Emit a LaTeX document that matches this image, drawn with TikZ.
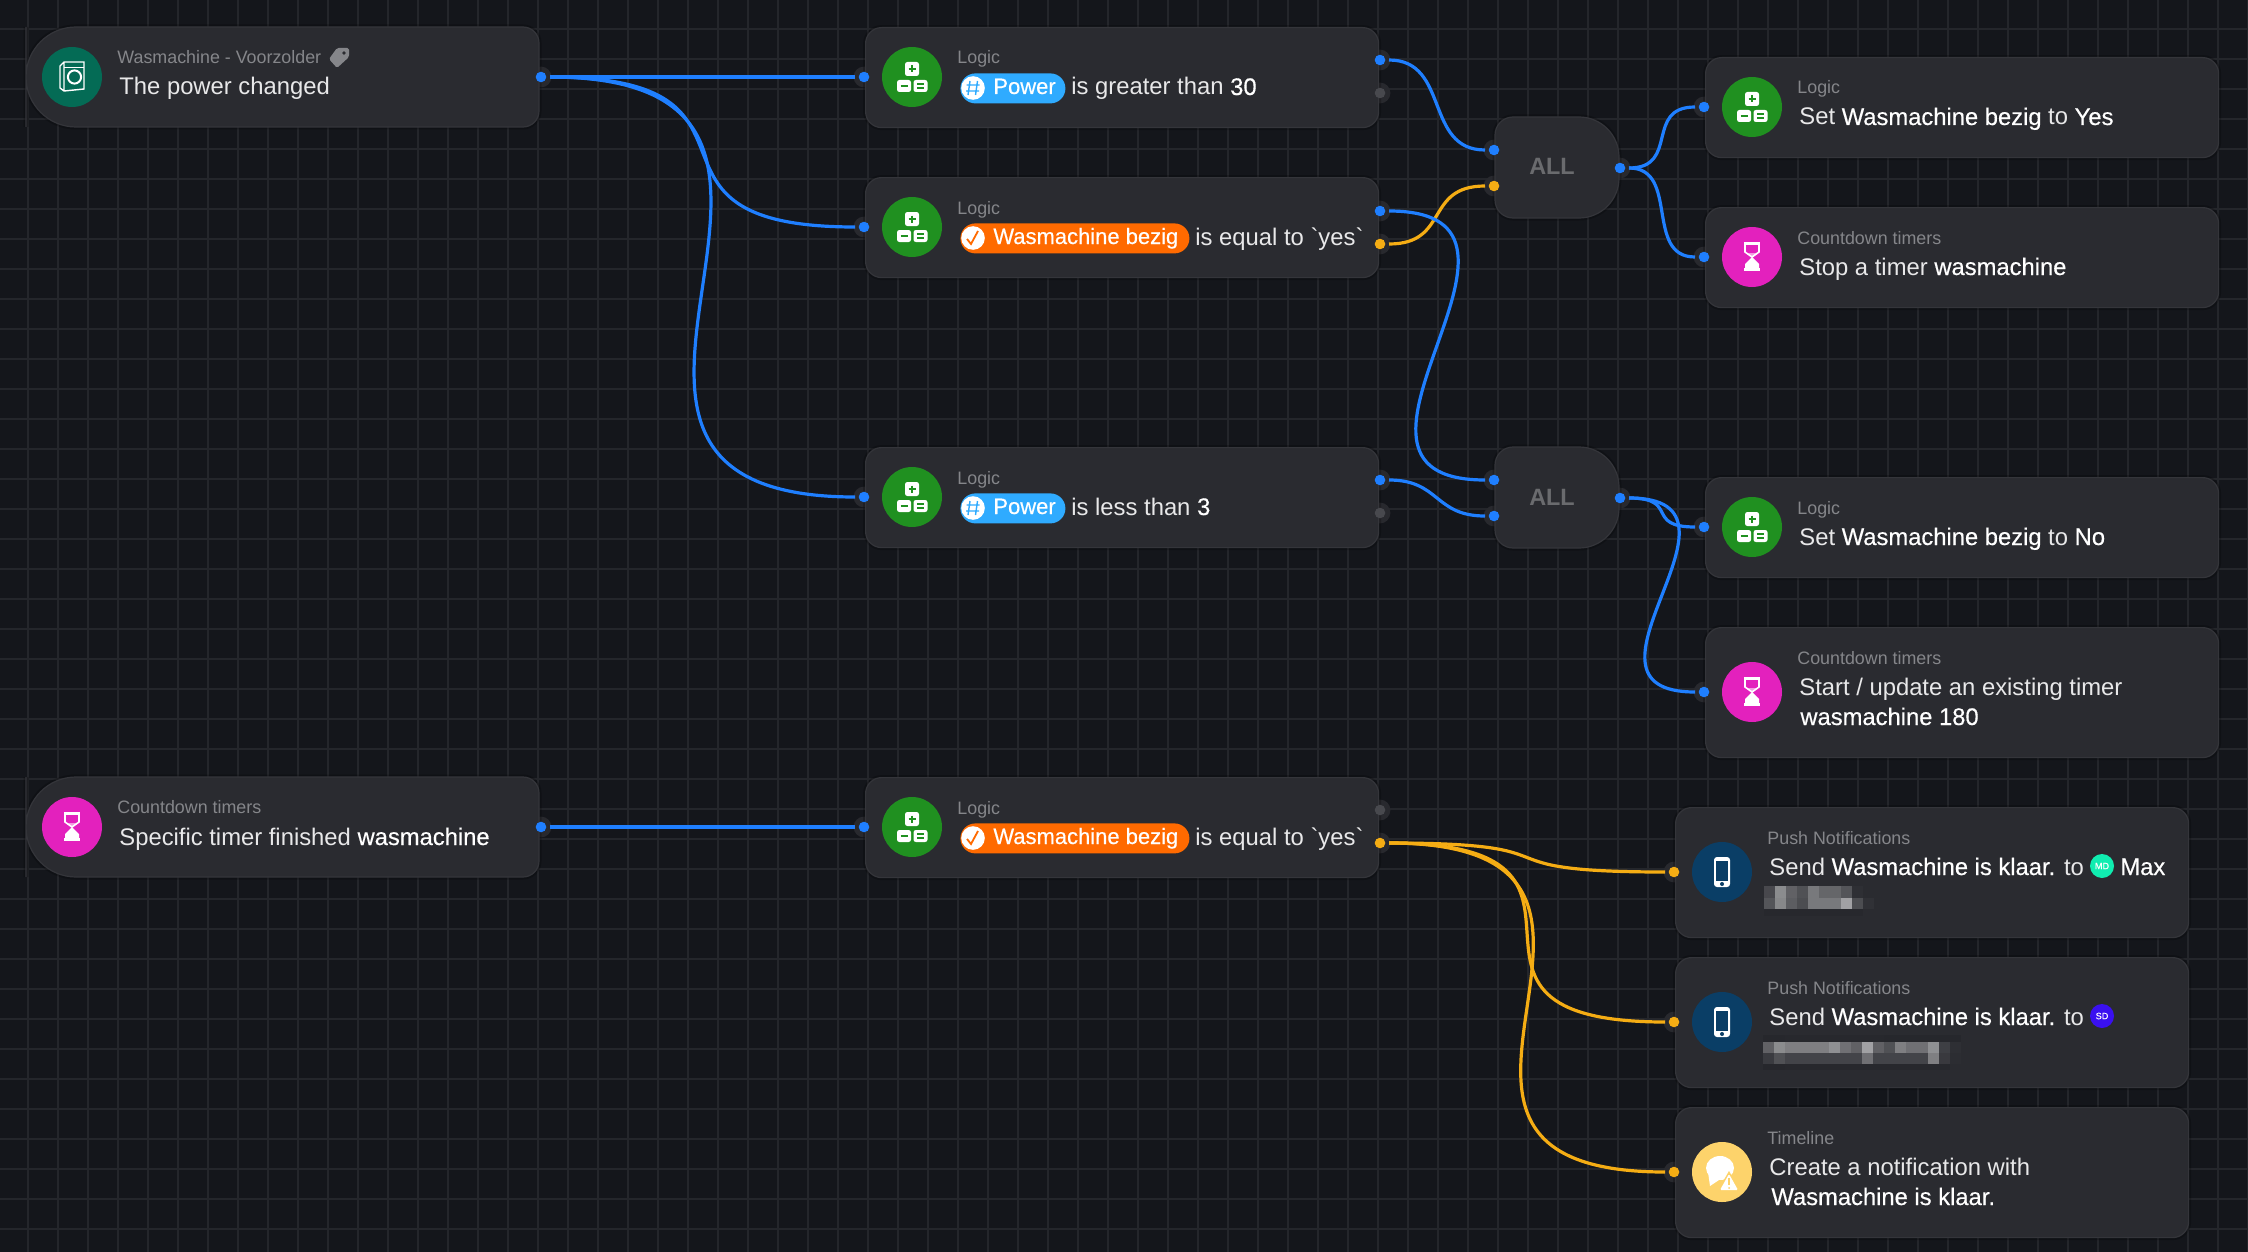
\documentclass[tikz,border=0pt]{standalone}
\usepackage{fontspec}
\setmainfont{Liberation Sans}[Ligatures=TeXOff,FakeStretch=0.992]
\newfontfamily\medf{Liberation Sans}[Ligatures=TeXOff,FakeBold=0.4,FakeStretch=0.99]
\definecolor{bgc}{HTML}{14161B}
\definecolor{gridc}{HTML}{24262B}
\definecolor{cardc}{HTML}{2A2B30}
\definecolor{cardb}{HTML}{34353A}
\definecolor{bumpc}{HTML}{28292E}
\definecolor{wblue}{HTML}{1F7FFF}
\definecolor{wyel}{HTML}{F5AD14}
\definecolor{pgrey}{HTML}{48494E}
\definecolor{ttlc}{HTML}{85868A}
\definecolor{txtc}{HTML}{E8E8E9}
\definecolor{lgreen}{HTML}{209020}
\definecolor{pink}{HTML}{E321BD}
\definecolor{teal}{HTML}{046B55}
\definecolor{navy}{HTML}{0A3E66}
\definecolor{sun}{HTML}{FDD36B}
\definecolor{pillb}{HTML}{2FABFF}
\definecolor{pillo}{HTML}{FF6A00}
\definecolor{avgreen}{HTML}{10EDB0}
\definecolor{avblue}{HTML}{3A10F0}
\definecolor{allc}{HTML}{6A6B6E}
\newcommand{\md}[1]{{\medf\color{white}#1}}
\tikzset{
 x=0.5pt,y=-0.5pt,
 shade/.style={preaction={draw=black,draw opacity=.22,line width=2.5pt}},
 card/.style={shade,fill=cardc,draw=cardb,line width=.6pt,rounded corners=8pt,inner sep=0pt,anchor=north west,minimum width=256.5pt},
 box/.style={shade,fill=cardc,draw=cardb,line width=.6pt},
 ttl/.style={anchor=base west,inner sep=0pt,text=ttlc,font=\fontsize{9pt}{10pt}\selectfont},
 txt/.style={anchor=base west,inner sep=0pt,text=txtc,font=\fontsize{12pt}{15pt}\selectfont},
 ptxt/.style={anchor=base west,inner sep=0pt,text=white,font=\fontsize{11.1pt}{13pt}\medf},
 alltxt/.style={anchor=base,inner sep=0pt,text=allc,font=\fontsize{11.8pt}{15pt}\bfseries},
 dot/.style={circle,inner sep=0pt,minimum size=5.3pt,fill=#1},
 wire/.style={line width=1.6pt,shorten <=4.5pt,shorten >=4.5pt,draw=#1},
 pill/.style={inner sep=0pt,minimum height=15pt,rounded corners=7.5pt,anchor=north west,fill=#1},
 ico/.style={circle,inner sep=0pt,minimum size=30pt,fill=#1},
}
\newcommand{\logicicon}[2]{\begin{scope}[shift={(#1,#2)}]
 \fill[white,rounded corners=1.2pt] (-7,-15) rectangle (7,-1);
 \fill[white,rounded corners=1.2pt] (-15,3) rectangle (-1,15);
 \fill[white,rounded corners=1.2pt] (1.5,3) rectangle (15.5,15);
 \draw[lgreen,line width=.8pt] (-3.5,-8) -- (3.5,-8) (0,-11.5) -- (0,-4.5);
 \draw[lgreen,line width=.8pt] (-11.5,9) -- (-4.5,9);
 \draw[lgreen,line width=.8pt] (5,7) -- (12,7) (5,11) -- (12,11);
\end{scope}}
\newcommand{\glassicon}[2]{\begin{scope}[shift={(#1,#2)}]
 \fill[white] (-8,-15) rectangle (8,-12);
 \fill[white] (-8,11) rectangle (8,14);
 \draw[white,line width=.8pt] (-7,-12) -- (-7,-5) -- (0,0) -- (7,-5) -- (7,-12);
 \fill[white,opacity=.55] (-4.5,-4) -- (4.5,-4) -- (0,0) -- cycle;
 \fill[white] (0,0) -- (3,3) -- (7,7) -- (7,11) -- (-7,11) -- (-7,7) -- (-3,3) -- cycle;
\end{scope}}
\newcommand{\phoneicon}[2]{\begin{scope}[shift={(#1,#2)}]
 \fill[white,rounded corners=1.5pt] (-8,-15) rectangle (8,15);
 \fill[navy] (-6,-11) rectangle (6,9);
 \fill[navy] (0,12) circle[radius=1pt];
\end{scope}}
\begin{document}
\begin{tikzpicture}
\useasboundingbox (0,0) rectangle (2248,1252);
\fill[bgc] (0,0) rectangle (2248,1252);
% grid
\foreach \gx in {28,58,...,2248} \draw[gridc,line width=.75pt] (\gx,0) -- (\gx,1252);
\foreach \gy in {29,59,...,1252} \draw[gridc,line width=.75pt] (0,\gy) -- (2248,\gy);
% port bumps
\foreach \bx/\by in {541/77,541/827,864/77,864/227,864/497,864/827,1380/60,1380/93,1380/211,1380/244,1380/480,1380/513,1380/810,1380/843,1494/150,1494/186,1494/480,1494/516,1620/168,1620/498,1704/107,1704/257,1704/527,1704/692,1674/872,1674/1022,1674/1172}
  \fill[bumpc] (\bx,\by) circle[radius=5.2pt];
% trigger cards
\path[box] (26,77) [rounded corners=25pt] -- (26,27) [rounded corners=8pt] -- (539,27) -- (539,127) [rounded corners=25pt] -- (26,127) -- cycle;
\path[box] (26,827) [rounded corners=25pt] -- (26,777) [rounded corners=8pt] -- (539,777) -- (539,877) [rounded corners=25pt] -- (26,877) -- cycle;
% ALL cards
\path[box] (1495,167) [rounded corners=9pt] -- (1495,117) [rounded corners=20pt] -- (1619,117) -- (1619,218) [rounded corners=9pt] -- (1495,218) -- cycle;
\path[box] (1495,497) [rounded corners=9pt] -- (1495,447) [rounded corners=20pt] -- (1619,447) -- (1619,548) [rounded corners=9pt] -- (1495,548) -- cycle;
\node[alltxt] (allA) at (1552,175) {ALL};
\node[alltxt] (allB) at (1552,505) {ALL};
% cards
\node[card,minimum height=50pt] (l1) at (865,27) {};
\node[card,minimum height=50pt] (l2) at (865,177) {};
\node[card,minimum height=50pt] (l3) at (865,447) {};
\node[card,minimum height=50pt] (l4) at (865,777) {};
\node[card,minimum height=50pt] (r1) at (1705,57) {};
\node[card,minimum height=50pt] (r2) at (1705,207) {};
\node[card,minimum height=50pt] (r3) at (1705,477) {};
\node[card,minimum height=65pt] (r4) at (1705,627) {};
\node[card,minimum height=65pt] (p1) at (1675,807) {};
\node[card,minimum height=65pt] (p2) at (1675,957) {};
\node[card,minimum height=65pt] (p3) at (1675,1107) {};
% icon circles
\node[ico=teal] (ia) at (72,77) {};
\node[ico=pink] (ib) at (72,827) {};
\foreach \n/\ix/\iy in {c1/912/77,c2/912/227,c3/912/497,c4/912/827,c5/1752/107,c6/1752/527} {
  \node[ico=lgreen] (\n) at (\ix,\iy) {};
  \logicicon{\ix}{\iy}
}
\node[ico=pink] (c7) at (1752,257) {};
\glassicon{1752}{257}
\node[ico=pink] (c8) at (1752,692) {};
\glassicon{1752}{692}
\glassicon{72}{827}
\node[ico=navy] (c9) at (1722,872) {};
\phoneicon{1722}{872}
\node[ico=navy] (c10) at (1722,1022) {};
\phoneicon{1722}{1022}
\node[ico=sun] (c11) at (1722,1172) {};
% washer icon
\draw[white,line width=.7pt] (60,66) -- (64,62) -- (84,62) -- (84,89) -- (64,91) -- (60,88) -- cycle (64,62) -- (64,91);
\draw[white,line width=.5pt] (64,68) -- (84,68);
\draw[white,line width=1pt] (74.5,77) circle[radius=3.3pt];
% timeline icon
\fill[white] (1720,1168) circle[x radius=14,y radius=12];
\fill[white] (1708,1172) -- (1710,1186) -- (1722,1178) -- cycle;
\fill[sun] (1729,1171) -- (1741,1192) -- (1717,1192) -- cycle;
\fill[white,rounded corners=.6pt] (1729,1174) -- (1738,1190) -- (1720,1190) -- cycle;
\draw[sun,line width=.8pt] (1729,1178) -- (1729,1185);
\fill[sun] (1729,1188) circle[radius=.5pt];
% tag icon
\fill[ttlc,rounded corners=.8pt] (337,48) -- (349,48) -- (349,57) -- (337,68) -- (329,59) -- cycle;
\fill[cardc] (344,53) circle[radius=.9pt];
% titles
\node[ttl] (tta) at (117,64) {Wasmachine - Voorzolder};
\node[ttl] (ttb) at (117,813) {Countdown timers};
\node[ttl] (tl1) at (957,64) {Logic};
\node[ttl] (tl2) at (957,214) {Logic};
\node[ttl] (tl3) at (957,484) {Logic};
\node[ttl] (tl4) at (957,814) {Logic};
\node[ttl] (tr1) at (1797,94) {Logic};
\node[ttl] (tr2) at (1797,244) {Countdown timers};
\node[ttl] (tr3) at (1797,514) {Logic};
\node[ttl] (tr4) at (1797,664) {Countdown timers};
\node[ttl] (tp1) at (1767,844) {Push Notifications};
\node[ttl] (tp2) at (1767,994) {Push Notifications};
\node[ttl] (tp3) at (1767,1144) {Timeline};
% main texts
\node[txt] (ma) at (119,95) {The power changed};
\node[txt] (mb) at (119,845) {Specific timer finished \md{wasmachine}};
\node[pill=pillb,minimum width=52.5pt] (pa) at (960,73) {};
\node[pill=pillo,minimum width=114.5pt] (pb) at (960,223) {};
\node[pill=pillb,minimum width=52.5pt] (pc) at (960,493) {};
\node[pill=pillo,minimum width=114.5pt] (pd) at (960,823) {};
\foreach \cy in {88,508} {
  \fill[white] (973,\cy) circle[radius=5.9pt];
  \draw[pillb,line width=.7pt] (970,\cy-7) -- (968,\cy+7) (977.5,\cy-7) -- (975.5,\cy+7) (966.5,\cy-3) -- (979.5,\cy-3) (966,\cy+3) -- (979,\cy+3);
}
\foreach \cy in {238,838} {
  \fill[white] (973,\cy) circle[radius=5.9pt];
  \draw[pillo,line width=.9pt] (967,\cy+1) -- (971,\cy+6) -- (978,\cy-7);
}
\node[ptxt] (sa) at (993,94) {Power};
\node[txt] (ea) at (1071,95) {is greater than \md{30}};
\node[ptxt] (sb) at (993,244) {Wasmachine bezig};
\node[txt] (eb) at (1195,245) {is equal to `yes`};
\node[ptxt] (sc) at (993,514) {Power};
\node[txt] (ec) at (1071,515) {is less than \md{3}};
\node[ptxt] (sd) at (993,844) {Wasmachine bezig};
\node[txt] (ed) at (1195,845) {is equal to `yes`};
\node[txt] (m1) at (1799,125) {Set \md{Wasmachine bezig} to \md{Yes}};
\node[txt] (m2) at (1799,275) {Stop a timer \md{wasmachine}};
\node[txt] (m3) at (1799,545) {Set \md{Wasmachine bezig} to \md{No}};
\node[txt] (m4) at (1799,695) {Start / update an existing timer};
\node[txt] (m4b) at (1800,725) {\md{wasmachine 180}};
\node[txt] (m5) at (1769,875) {Send \md{Wasmachine is klaar.} to};
\node[circle,inner sep=0pt,minimum size=12pt,fill=avgreen] (av1) at (2102,866) {};
\node[inner sep=0pt,text=white,font=\fontsize{4.6pt}{5pt}\medf] (av1t) at (2102,866) {MD};
\node[txt] (m5b) at (2120,875) {\md{Max}};
\node[txt] (m6) at (1769,1025) {Send \md{Wasmachine is klaar.} to};
\node[circle,inner sep=0pt,minimum size=12pt,fill=avblue] (av2) at (2102,1016) {};
\node[inner sep=0pt,text=white,font=\fontsize{4.6pt}{5pt}\medf] (av2t) at (2102,1016) {SD};
\node[txt] (m7) at (1769,1175) {Create a notification with};
\node[txt] (m7b) at (1771,1205) {\md{Wasmachine is klaar.}};
% pixelated blocks
\foreach \v [count=\i from 0] in {14,46,26,18,37,28,28,20,2,0,0}
  \fill[white,opacity=\v/100] (1764+\i*11,886) rectangle +(11,11.5);
\foreach \v [count=\i from 0] in {20,44,24,16,37,37,37,56,16,3,0}
  \fill[white,opacity=\v/100] (1764+\i*11,897.5) rectangle +(11,11);
\foreach \v [count=\i from 0] in {6,6,6,6,6,6,6,6,6,0}
  \fill[black,opacity=\v/100] (1764+\i*11,908.5) rectangle +(11,7);
\foreach \v [count=\i from 0] in {8,8,5,5,5,5,5,5,5,5,5,8,8,8,8,8,8,8}
  \fill[black,opacity=\v/100] (1763+\i*11,1035) rectangle +(11,6.5);
\foreach \v [count=\i from 0] in {26,46,40,40,40,40,48,33,26,56,26,18,40,33,33,48,10,2}
  \fill[white,opacity=\v/100] (1763+\i*11,1041.5) rectangle +(11,11);
\foreach \v [count=\i from 0] in {8,18,12,12,12,12,12,12,12,33,12,12,12,12,12,40,7,1}
  \fill[white,opacity=\v/100] (1763+\i*11,1052.5) rectangle +(11,11);
\foreach \v [count=\i from 0] in {8,8,5,5,5,5,5,5,5,5,5,5,5,5,5,5,5}
  \fill[black,opacity=\v/100] (1763+\i*11,1063.5) rectangle +(11,6);
% port dots
\node[dot=wblue] (oa) at (541,77) {};
\node[dot=wblue] (ob) at (541,827) {};
\node[dot=wblue] (i1) at (864,77) {};
\node[dot=wblue] (i2) at (864,227) {};
\node[dot=wblue] (i3) at (864,497) {};
\node[dot=wblue] (i4) at (864,827) {};
\node[dot=wblue] (o1t) at (1380,60) {};
\node[dot=pgrey] (o1f) at (1380,93) {};
\node[dot=wblue] (o2t) at (1380,211) {};
\node[dot=wyel] (o2f) at (1380,244) {};
\node[dot=wblue] (o3t) at (1380,480) {};
\node[dot=pgrey] (o3f) at (1380,513) {};
\node[dot=pgrey] (o4t) at (1380,810) {};
\node[dot=wyel] (o4f) at (1380,843) {};
\node[dot=wblue] (a1) at (1494,150) {};
\node[dot=wyel] (a2) at (1494,186) {};
\node[dot=wblue] (a3) at (1494,480) {};
\node[dot=wblue] (a4) at (1494,516) {};
\node[dot=wblue] (ao1) at (1620,168) {};
\node[dot=wblue] (ao2) at (1620,498) {};
\node[dot=wblue] (n1) at (1704,107) {};
\node[dot=wblue] (n2) at (1704,257) {};
\node[dot=wblue] (n3) at (1704,527) {};
\node[dot=wblue] (n4) at (1704,692) {};
\node[dot=wyel] (n5) at (1674,872) {};
\node[dot=wyel] (n6) at (1674,1022) {};
\node[dot=wyel] (n7) at (1674,1172) {};
% connectors
\draw[wire=wblue] (oa.center) -- (i1.center);
\draw[wire=wblue] (ob.center) -- (i4.center);
\draw[wire=wblue] (oa.center) .. controls +(255,0) and +(-255,0) .. (i2.center);
\draw[wire=wblue] (oa.center) .. controls +(375,0) and +(-375,0) .. (i3.center);
\draw[wire=wblue] (o1t.center) .. controls +(70,0) and +(-70,0) .. (a1.center);
\draw[wire=wyel] (o2f.center) .. controls +(70,0) and +(-70,0) .. (a2.center);
\draw[wire=wblue] (o2t.center) .. controls +(200,0) and +(-200,0) .. (a3.center);
\draw[wire=wblue] (o3t.center) .. controls +(60,0) and +(-60,0) .. (a4.center);
\draw[wire=wblue] (ao1.center) .. controls +(60,0) and +(-60,0) .. (n1.center);
\draw[wire=wblue] (ao1.center) .. controls +(60,0) and +(-60,0) .. (n2.center);
\draw[wire=wblue] (ao2.center) .. controls +(60,0) and +(-60,0) .. (n3.center);
\draw[wire=wblue] (ao2.center) .. controls +(150,0) and +(-150,0) .. (n4.center);
\draw[wire=wyel] (o4f.center) .. controls +(210,0) and +(-210,0) .. (n5.center);
\draw[wire=wyel] (o4f.center) .. controls +(273,0) and +(-273,0) .. (n6.center);
\draw[wire=wyel] (o4f.center) .. controls +(333,0) and +(-333,0) .. (n7.center);
\end{tikzpicture}
\end{document}
